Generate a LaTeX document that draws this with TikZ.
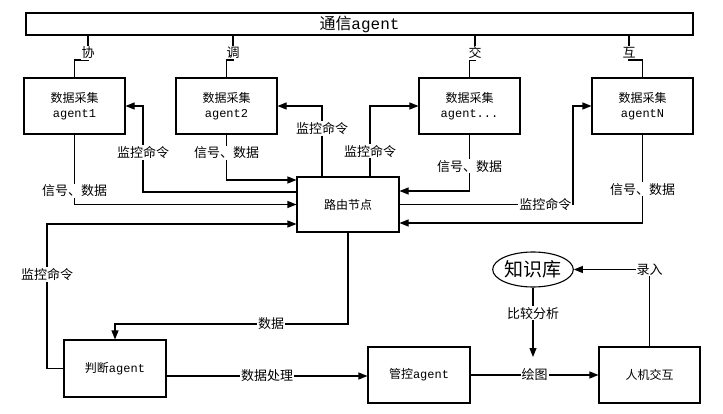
\documentclass[tikz,border=0pt]{standalone}
\usepackage{fontspec}
\setmainfont{Noto Sans CJK SC}
\setmonofont{Liberation Mono}
\usetikzlibrary{arrows.meta,shapes.geometric}

\tikzset{
  box/.style={draw, minimum width=101pt, minimum height=56pt, align=center, font=\fontsize{12}{15}\selectfont},
  lbl/.style={fill=white, inner sep=1pt, font=\fontsize{13}{15}\selectfont},
  arr/.style={-{Triangle[length=9pt,width=7pt]}},
}

\begin{document}
\begin{tikzpicture}[x=1pt, y=-1pt, line width=1.1pt]
        \useasboundingbox (0,0) rectangle (723,414);

        % bus and agents
        \node[draw, minimum width=667pt, minimum height=22pt, inner sep=0pt, font=\fontsize{16}{18}\selectfont] (bus) at (359.5,24) {通信\texttt{agent}};
        \node[box] (a1) at (74.5,106) {数据采集\\\texttt{agent1}};
        \node[box] (a2) at (226.5,106) {数据采集\\\texttt{agent2}};
        \node[box] (a3) at (469.5,106) {数据采集\\\texttt{agent...}};
        \node[box] (aN) at (642.5,106) {数据采集\\\texttt{agentN}};

        \node[box, minimum width=102pt, minimum height=55pt] (rt) at (348,204.5) {路由节点};
        \node[box, minimum width=102pt, minimum height=57pt] (pd) at (115,368.5) {判断\texttt{agent}};
        \node[box, minimum width=102pt] (gk) at (419,375) {管控\texttt{agent}};
        \node[box] (hm) at (649.5,375) {人机交互};
        \node[draw, ellipse, minimum width=78pt, minimum height=35pt, inner sep=0pt, font=\fontsize{19}{21}\selectfont] (kb) at (533,269.5) {知识库};
        \coordinate (ht) at (533,357);

        % bus links
        \draw (88,0 |- bus.south) -- node[lbl, pos=.7]{协} (88,60) -| (a1.north);
        \draw (233,0 |- bus.south) -- node[lbl, pos=.7]{调} (233,60) -| (a2.north);
        \draw (475,0 |- bus.south) -- node[lbl, pos=.7]{交} (475,60) -| (a3.north);
        \draw (629,0 |- bus.south) -- node[lbl, pos=.7]{互} (629,60) -| (aN.north);

        % agents and routing node
        \draw[arr] (a1.south) |- node[lbl, pos=.4]{信号、数据} (rt.west);
        \draw[arr] (rt.west |- 0,192) -| node[lbl, pos=.73]{监控命令} (143,106) -- (a1.east);
        \draw[arr] (a2.south) |- node[lbl, pos=.2]{信号、数据} (rt.west |- 0,180);
        \draw[arr] (322,0 |- rt.north) |- node[lbl, pos=.34]{监控命令} (a2.east);
        \draw[arr] (370,0 |- rt.north) |- node[lbl, pos=.18]{监控命令} (a3.west);
        \draw[arr] (a3.south) |- node[lbl, pos=.28]{信号、数据} (rt.east |- 0,191);
        \draw[arr] (rt.east) -| node[lbl, pos=.42]{监控命令} (573,106) -- (aN.west);
        \draw[arr] (aN.south) |- node[lbl, pos=.31]{信号、数据} (rt.east |- 0,223);

        % lower part
        \draw[arr] (pd.west) -- (47,0 |- pd.west) -- node[lbl, pos=.65]{监控命令} (47,224) -- (rt.west |- 0,224);
        \draw[arr] (rt.south) -- (rt.south |- 0,324) -- node[lbl, pos=.33]{数据} (pd.north |- 0,324) -- (pd.north);
        \draw[arr] (pd.east |- 0,376) -- node[lbl]{数据处理} (gk.west |- 0,376);
        \draw[arr] (gk.east) -- node[lbl]{绘图} (hm.west);
        \draw[arr] (kb.south) -- node[lbl, pos=.37]{比较分析} (ht);
        \draw[arr] (hm.north) |- node[lbl, pos=.5]{录入} (kb.east);
      \end{tikzpicture}
\end{document}
